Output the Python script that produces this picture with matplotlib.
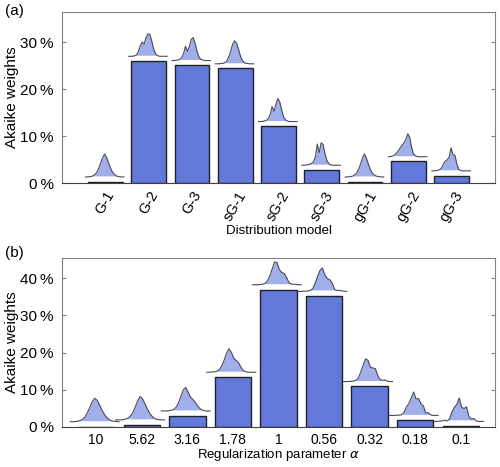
import numpy as np
import matplotlib
matplotlib.use("Agg")
from matplotlib import pyplot as plt

plt.rcParams['font.family'] = ['Liberation Sans', 'DejaVu Sans']

# panel (a): distribution models
models = ["G-1", "G-2", "G-3", "sG-1", "sG-2", "sG-3", "gG-1", "gG-2", "gG-3"]
weights_a = [0.3, 26.0, 25.1, 24.4, 12.1, 2.8, 0.3, 4.6, 1.6]

# panel (b): regularization parameter
alphas = ["10", "5.62", "3.16", "1.78", "1", "0.56", "0.32", "0.18", "0.1"]
weights_b = [0.1, 0.6, 3.0, 13.4, 36.9, 35.1, 10.9, 1.8, 0.2]

# little density curves drawn above the bars (normalised heights)
dens_a = [
    [0, 0, 0.01, 0.02, 0.05, 0.11, 0.22, 0.4, 0.62, 0.85, 1.0, 0.85, 0.62, 0.4, 0.22, 0.11, 0.05, 0.02, 0.01, 0, 0],
    [0, 0, 0, 0.02, 0.05, 0.2, 0.45, 0.62, 0.53, 0.8, 0.98, 0.95, 0.65, 0.3, 0.1, 0.03, 0, 0, 0, 0, 0],
    [0, 0, 0.01, 0.02, 0.05, 0.12, 0.3, 0.62, 0.4, 0.6, 0.92, 1.0, 0.75, 0.4, 0.15, 0.05, 0.02, 0, 0, 0, 0],
    [0, 0, 0, 0.01, 0.02, 0.05, 0.12, 0.3, 0.55, 0.85, 1.0, 0.9, 0.65, 0.35, 0.15, 0.05, 0.02, 0.01, 0, 0, 0],
    [0, 0, 0.01, 0.02, 0.05, 0.12, 0.3, 0.65, 0.45, 0.75, 1.0, 0.85, 0.5, 0.2, 0.07, 0.02, 0, 0, 0, 0, 0],
    [0, 0, 0.01, 0.02, 0.04, 0.08, 0.15, 0.35, 0.92, 0.55, 0.97, 0.9, 0.5, 0.2, 0.06, 0.02, 0, 0, 0, 0, 0],
    [0, 0, 0.01, 0.02, 0.04, 0.09, 0.18, 0.34, 0.56, 0.82, 1.0, 0.82, 0.56, 0.34, 0.18, 0.09, 0.04, 0.02, 0.01, 0, 0],
    [0, 0.01, 0.03, 0.07, 0.15, 0.25, 0.37, 0.5, 0.6, 0.75, 1.0, 0.85, 0.4, 0.12, 0.04, 0.01, 0, 0, 0, 0, 0],
    [0, 0, 0.01, 0.02, 0.05, 0.12, 0.3, 0.42, 0.48, 0.6, 1.0, 0.7, 0.68, 0.3, 0.06, 0.02, 0, 0, 0, 0, 0],
]
dens_b = [
    [0, 0, 0.01, 0.02, 0.05, 0.1, 0.2, 0.38, 0.6, 0.85, 1.0, 0.92, 0.72, 0.5, 0.32, 0.18, 0.09, 0.04, 0.02, 0.01, 0],
    [0, 0, 0, 0.01, 0.03, 0.08, 0.16, 0.32, 0.55, 0.82, 1.0, 0.9, 0.68, 0.45, 0.27, 0.14, 0.06, 0.02, 0.01, 0, 0],
    [0, 0, 0, 0.01, 0.03, 0.06, 0.15, 0.35, 0.62, 0.9, 1.0, 0.8, 0.58, 0.48, 0.35, 0.2, 0.08, 0.03, 0, 0, 0],
    [0, 0, 0.01, 0.02, 0.04, 0.1, 0.25, 0.5, 0.8, 1.0, 0.85, 0.6, 0.5, 0.4, 0.2, 0.06, 0.02, 0, 0, 0, 0],
    [0, 0, 0, 0.01, 0.02, 0.05, 0.15, 0.35, 0.65, 0.97, 0.95, 0.65, 0.52, 0.48, 0.3, 0.08, 0.03, 0.02, 0.01, 0, 0],
    [0, 0, 0.01, 0.01, 0.02, 0.04, 0.12, 0.35, 0.65, 0.9, 1.0, 0.7, 0.55, 0.5, 0.35, 0.08, 0.04, 0.05, 0.02, 0.01, 0],
    [0, 0, 0, 0.01, 0.02, 0.05, 0.15, 0.4, 0.7, 0.97, 0.9, 0.6, 0.58, 0.55, 0.25, 0.08, 0.05, 0.07, 0.01, 0, 0],
    [0, 0, 0, 0.01, 0.01, 0.03, 0.12, 0.35, 0.5, 0.75, 1.0, 0.7, 0.72, 0.5, 0.4, 0.1, 0.12, 0.02, 0, 0, 0],
    [0, 0, 0.01, 0.02, 0.05, 0.02, 0.1, 0.4, 0.6, 0.72, 1.0, 0.6, 0.55, 0.62, 0.2, 0.1, 0.12, 0.02, 0, 0, 0],
]

bar_color = "#6379d9"
curve_fill = "#a0aeea"
edge = "#20202a"
spine_gray = "#808080"

fig = plt.figure(figsize=(5.0, 4.67), dpi=100)
ax_a = fig.add_axes([0.124, 0.608, 0.866, 0.366])
ax_b = fig.add_axes([0.124, 0.0857, 0.866, 0.362])


def draw_panel(ax, labels, weights, dens, xlim, ylim, gap, height, span, strip, yticks):
    x = np.arange(1, len(labels) + 1)
    ax.bar(x, weights, width=0.8, color=bar_color, edgecolor=edge, linewidth=1.0, zorder=2)
    for xi, w, d in zip(x, weights, dens):
        d = np.array(d)
        xs = np.linspace(xi + span[0], xi + span[1], len(d))
        base = w + gap
        ax.fill_between(xs, base + strip, base + d * height, where=d * height > strip,
                        interpolate=True, color=curve_fill, lw=0, zorder=3)
        ax.plot(xs, base + d * height, color="#4a4a58", lw=0.8, zorder=4)
    ax.set_xlim(*xlim)
    ax.set_ylim(*ylim)
    ax.set_xticks(x)
    ax.set_yticks(yticks)
    ax.set_yticklabels([f"{v}\u2009%" for v in yticks], fontsize=11)
    ax.tick_params(axis="y", direction="in", length=3, color=spine_gray, right=True, pad=6)
    ax.tick_params(axis="x", length=0)
    for s in ["left", "top", "right"]:
        ax.spines[s].set_color(spine_gray)
    ax.spines["bottom"].set_color("#404040")
    ax.set_ylabel("Akaike weights", fontsize=11, va="center")
    ax.yaxis.set_label_coords(-0.115, 0.5)


draw_panel(ax_a, models, weights_a, dens_a, (0, 10), (0, 36.4), 1.0, 4.9, (-0.46, 0.43), 0.22, [0, 10, 20, 30])
ax_a.set_xticklabels(models, rotation=60, ha="center", va="top", fontsize=10.5)
ax_a.tick_params(axis="x", pad=4)
ax_a.set_xlabel("Distribution model", fontsize=9.5, va="center")
ax_a.xaxis.set_label_coords(0.5, -0.28)

draw_panel(ax_b, alphas, weights_b, dens_b, (0.25, 9.75), (0, 45.4), 1.3, 6.3, (-0.57, 0.5), 0.28, [0, 10, 20, 30, 40])
ax_b.set_xticklabels(alphas, fontsize=10)
ax_b.tick_params(axis="x", pad=4)
ax_b.set_xlabel("Regularization parameter $\\alpha$", fontsize=9.5, va="center")
ax_b.xaxis.set_label_coords(0.5, -0.166)

fig.text(0.01, 0.976, "(a)", fontsize=11, va="center")
fig.text(0.01, 0.458, "(b)", fontsize=11, va="center")

fig.savefig("out.png", dpi=100)
